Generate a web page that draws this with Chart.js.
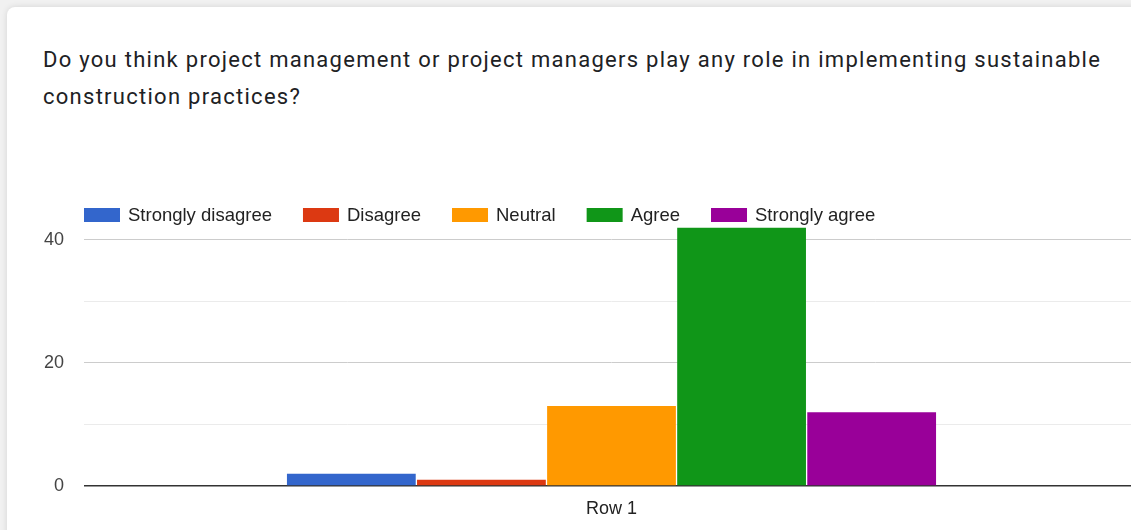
<!DOCTYPE html>
<html>
<head>
<meta charset="utf-8">
<script src="https://cdn.jsdelivr.net/npm/chart.js@4"></script>
<style>
  html, body { margin: 0; padding: 0; width: 1131px; height: 530px; overflow: hidden; background: #f1f1f1; }
  #card { position: absolute; left: 7px; top: 7px; width: 1200px; height: 600px; background: #fff;
          box-shadow: 0 0 6px rgba(0,0,0,0.12); border-radius: 8px 0 0 0; }
  #title { position: absolute; left: 43px; top: 41px; font-family: Roboto, "Noto Sans", sans-serif;
           font-size: 22px; line-height: 37px; letter-spacing: 1.27px; color: #202124; white-space: nowrap; }
  #wrap { position: absolute; left: -1px; top: 0; width: 1140px; height: 530px; }
</style>
</head>
<body>
<div id="card"></div>
<div id="title">Do you think project management or project managers play any role in implementing sustainable<br>construction practices?</div>
<div id="wrap"><canvas id="c" width="1140" height="530"></canvas></div>
<script>
const categories = ["Row 1"];
const seriesNames = ["Strongly disagree", "Disagree", "Neutral", "Agree", "Strongly agree"];
const seriesValues = [[2], [1], [13], [42], [12]];
const seriesColors = ["#3366cc", "#dc3912", "#ff9900", "#109618", "#990099"];
const yTickLabels = [0, 20, 40];
const yGridValues = [0, 10, 20, 30, 40];

const legendPlugin = {
  id: 'customLegend',
  afterDraw(chart) {
    const ctx = chart.ctx;
    ctx.save();
    ctx.font = '18.5px "Liberation Sans", Arial, sans-serif';
    ctx.textBaseline = 'middle';
    let x = 85;
    const yBox = 208, boxW = 36, boxH = 14;
    chart.data.datasets.forEach(ds => {
      ctx.fillStyle = ds.backgroundColor;
      ctx.fillRect(x, yBox, boxW, boxH);
      ctx.fillStyle = '#222222';
      ctx.fillText(ds.label, x + 44, yBox + boxH / 2 + 1);
      x += 44 + ctx.measureText(ds.label).width + 31;
    });
    ctx.restore();
  }
};

new Chart(document.getElementById('c'), {
  type: 'bar',
  data: {
    labels: categories,
    datasets: seriesNames.map((n, i) => ({
      label: n,
      data: seriesValues[i],
      backgroundColor: seriesColors[i],
      borderWidth: 0,
      categoryPercentage: 0.6165,
      barPercentage: 0.99
    }))
  },
  options: {
    responsive: false,
    animation: false,
    layout: { padding: { top: 227.5, left: 0, right: 0, bottom: 0 } },
    plugins: { legend: { display: false }, tooltip: { enabled: false } },
    scales: {
      x: {
        grid: { display: false, drawTicks: false },
        border: { display: false },
        ticks: { color: '#222222', font: { family: '"Liberation Sans", Arial, sans-serif', size: 18 }, padding: 12 },
        afterFit(s) { s.height = 44; }
      },
      y: {
        min: 0, max: 42,
        afterBuildTicks(s) { s.ticks = yGridValues.map(v => ({ value: v })); },
        grid: {
          drawTicks: false,
          color: ctx => ctx.tick.value === 0 ? '#333333' : (yTickLabels.includes(ctx.tick.value) ? '#cccccc' : '#ebebeb'),
          lineWidth: ctx => ctx.tick.value === 0 ? 1.5 : 1
        },
        border: { display: false },
        ticks: {
          padding: 20,
          color: '#444444',
          font: { family: '"Liberation Sans", Arial, sans-serif', size: 18 },
          callback: v => yTickLabels.includes(v) ? String(v) : ''
        },
        afterFit(s) { s.width = 85; }
      }
    }
  },
  plugins: [legendPlugin]
});
</script>
</body>
</html>
